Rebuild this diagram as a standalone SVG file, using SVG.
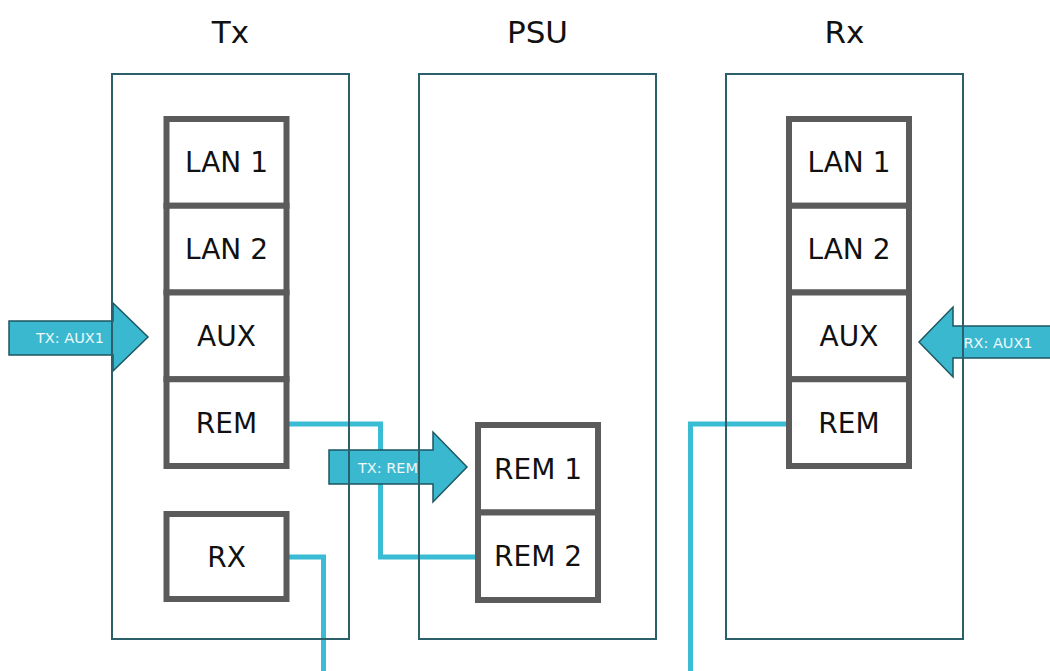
<svg xmlns="http://www.w3.org/2000/svg" width="1050" height="671" viewBox="0 0 1050 671">
<style>
.title{font-family:"DejaVu Sans",sans-serif;font-size:31px;fill:#111;text-anchor:middle}
.lbl{font-family:"DejaVu Sans",sans-serif;font-size:28px;fill:#111;text-anchor:middle}
.alb{font-family:"DejaVu Sans",sans-serif;font-size:14.5px;fill:#eef9fb;text-anchor:middle}
.cont{fill:none;stroke:#2b5f69;stroke-width:2}
.box{fill:#fff;stroke:#5b5b5b;stroke-width:6}
.wire{fill:none;stroke:#3bbcd5;stroke-width:5}
.arr{fill:#3ab8cf;stroke:#1e5661;stroke-width:1.5}
</style>
<rect width="1050" height="671" fill="#fff"/>
<g id="connectors">
<polyline class="wire" points="289,424 380.5,424 380.5,557 476,557"/>
<polyline class="wire" points="289,557 323.5,557 323.5,671"/>
<polyline class="wire" points="787,424 690.5,424 690.5,671"/>
</g>
<g id="arrow-tx-aux1">
<polygon class="arr" points="9,321 113,321 113,303 148,337 113,371 113,355 9,355"/>
<text class="alb" x="70" y="342.5">TX: AUX1</text>
</g>
<g id="arrow-rx-aux1">
<polygon class="arr" points="1052,326 953,326 953,307 919,342 953,377 953,358 1052,358"/>
<text class="alb" x="998" y="347.5">RX: AUX1</text>
</g>
<g id="arrow-tx-rem">
<polygon class="arr" points="329,450 433,450 433,432 467,467 433,502 433,484 329,484"/>
<text class="alb" x="388" y="472.5">TX: REM</text>
</g>
<g id="tx">
<rect class="cont" x="112" y="74" width="237" height="565"/>
<text class="title" x="230.5" y="43">Tx</text>
</g>
<g id="psu">
<rect class="cont" x="419" y="74" width="237" height="565"/>
<text class="title" x="537.5" y="43">PSU</text>
</g>
<g id="rx">
<rect class="cont" x="726" y="74" width="237" height="565"/>
<text class="title" x="844.5" y="43">Rx</text>
</g>
<g id="tx-lan1"><rect class="box" x="166.5" y="119" width="120" height="86.75"/><text class="lbl" x="226.5" y="172.4">LAN 1</text></g>
<g id="tx-lan2"><rect class="box" x="166.5" y="205.75" width="120" height="86.75"/><text class="lbl" x="226.5" y="259.1">LAN 2</text></g>
<g id="tx-aux"><rect class="box" x="166.5" y="292.5" width="120" height="86.75"/><text class="lbl" x="226.5" y="345.9">AUX</text></g>
<g id="tx-rem"><rect class="box" x="166.5" y="379.25" width="120" height="86.75"/><text class="lbl" x="226.5" y="432.6">REM</text></g>
<g id="tx-rx"><rect class="box" x="166.5" y="514" width="120" height="85"/><text class="lbl" x="226.5" y="566.5">RX</text></g>
<g id="psu-rem1"><rect class="box" x="478" y="425" width="120" height="87.5"/><text class="lbl" x="538" y="478.8">REM 1</text></g>
<g id="psu-rem2"><rect class="box" x="478" y="512.5" width="120" height="87.5"/><text class="lbl" x="538" y="566.3">REM 2</text></g>
<g id="rx-lan1"><rect class="box" x="789" y="119" width="120" height="86.75"/><text class="lbl" x="849" y="172.4">LAN 1</text></g>
<g id="rx-lan2"><rect class="box" x="789" y="205.75" width="120" height="86.75"/><text class="lbl" x="849" y="259.1">LAN 2</text></g>
<g id="rx-aux"><rect class="box" x="789" y="292.5" width="120" height="86.75"/><text class="lbl" x="849" y="345.9">AUX</text></g>
<g id="rx-rem"><rect class="box" x="789" y="379.25" width="120" height="86.75"/><text class="lbl" x="849" y="432.6">REM</text></g>
</svg>
